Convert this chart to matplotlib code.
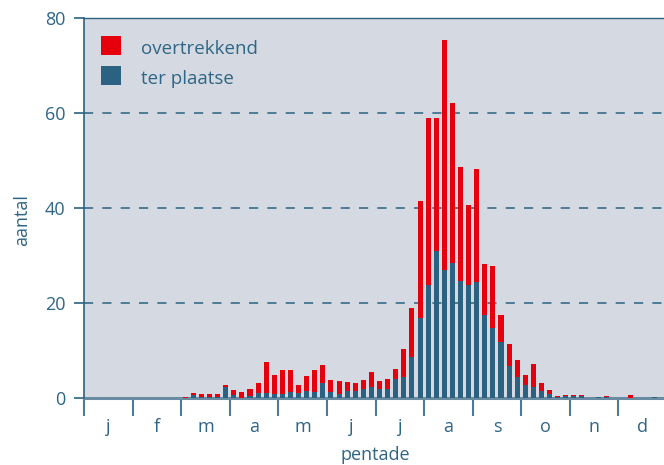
import numpy as np
import matplotlib
matplotlib.use("Agg")
import matplotlib.pyplot as plt
from matplotlib.patches import Rectangle

plt.rcParams['font.family'] = ['Open Sans', 'DejaVu Sans']

# 72 pentades (6 per month), totals and resident part
months = ['j', 'f', 'm', 'a', 'm', 'j', 'j', 'a', 's', 'o', 'n', 'd']
totaal = [0, 0, 0, 0, 0, 0, 0, 0, 0, 0, 0, 0,
          0.3, 1.05, 0.8, 0.8, 0.8, 2.7, 1.6, 1.2, 2.0, 3.1, 7.5, 4.8,
          6.0, 6.0, 2.7, 4.6, 6.0, 6.9, 3.7, 3.5, 3.3, 3.1, 3.7, 5.4,
          3.5, 4.1, 6.2, 10.4, 18.9, 41.5, 58.9, 58.9, 75.4, 62.1, 48.6, 40.6,
          48.2, 28.3, 27.7, 17.4, 11.3, 7.9, 4.9, 7.2, 3.2, 1.75, 0.5, 0.7,
          0.7, 0.7, 0, 0.2, 0.5, 0.1, 0, 0.7, 0, 0, 0.15, 0]
ter_plaatse = [0, 0, 0, 0, 0, 0, 0, 0, 0, 0, 0, 0,
               0, 0.6, 0.15, 0.2, 0.2, 2.25, 0.55, 0, 0.35, 1.05, 1.05, 0.8,
               0.8, 1.2, 1.05, 1.4, 1.2, 3.2, 1.2, 0.8, 1.5, 1.5, 2.0, 2.3,
               1.9, 2.0, 4.0, 4.5, 8.7, 16.8, 23.8, 30.9, 26.9, 28.4, 24.6, 23.8,
               24.4, 17.4, 14.8, 11.7, 6.8, 4.5, 2.8, 2.4, 1.5, 0.9, 0.3, 0.4,
               0.4, 0.4, 0, 0.2, 0.2, 0.1, 0, 0, 0, 0, 0.15, 0]
series = ['overtrekkend', 'ter plaatse']

ter_plaatse = np.array(ter_plaatse)
overtrekkend = np.array(totaal) - ter_plaatse

red = '#e6000b'
blue = '#2b6181'
txt = '#2f6585'
bg = '#d5dae2'

fig = plt.figure(figsize=(6.64, 4.65), dpi=100)
ax = fig.add_axes([84 / 664, 67 / 465, 583 / 664, 380 / 465])
ax.set_facecolor(bg)

x = np.arange(len(totaal)) + 0.5
ax.bar(x, ter_plaatse, width=0.62, color=blue, zorder=3)
ax.bar(x, overtrekkend, width=0.62, bottom=ter_plaatse, color=red, zorder=3)

ax.set_xlim(0, 72)
ax.set_ylim(0, 80)

# dashed grid
for y in [20, 40, 60]:
    ax.axhline(y, color=blue, lw=1.1, dashes=(6, 6), zorder=1)

# spines
ax.spines['right'].set_visible(False)
ax.spines['left'].set_color(blue)
ax.spines['left'].set_linewidth(1.2)
ax.spines['top'].set_color(blue)
ax.spines['top'].set_linewidth(1.0)
ax.spines['bottom'].set_color('#6a8ca3')
ax.spines['bottom'].set_linewidth(2.2)
ax.spines['bottom'].set_zorder(2)

ax.set_yticks([0, 20, 40, 60, 80])
ax.tick_params(axis='y', direction='out', length=7.5, width=1.2, color=blue,
               labelsize=13, labelcolor=txt, pad=6)

ax.set_xticks(np.arange(0, 73, 6))
ax.set_xticklabels([])
ax.set_xticks(np.arange(3, 72, 6), minor=True)
ax.set_xticklabels(months, minor=True)
ax.tick_params(axis='x', which='major', direction='out', length=13, width=1.5,
               color='#4d7a96')
ax.tick_params(axis='x', which='minor', length=0, labelsize=13,
               labelcolor=txt, pad=14.5)

ax.set_xlabel('pentade', fontsize=13, color=txt, labelpad=7)
ax.set_ylabel('aantal', fontsize=13, color=txt)
ax.yaxis.set_label_coords(-0.09, 0.468)

# legend, drawn by hand to match the square markers
for i, (name, col) in enumerate(zip(series, [red, blue])):
    yb = (343 - 30 * i) / 380
    ax.add_patch(Rectangle((17 / 583, yb), 20 / 583, 19 / 380, color=col,
                           transform=ax.transAxes, zorder=4, lw=0))
    ax.text(57 / 583, yb + 1 / 380, name, transform=ax.transAxes,
            fontsize=13.5, color=txt, va='baseline', ha='left', zorder=4)

fig.savefig('out.png', dpi=100)
